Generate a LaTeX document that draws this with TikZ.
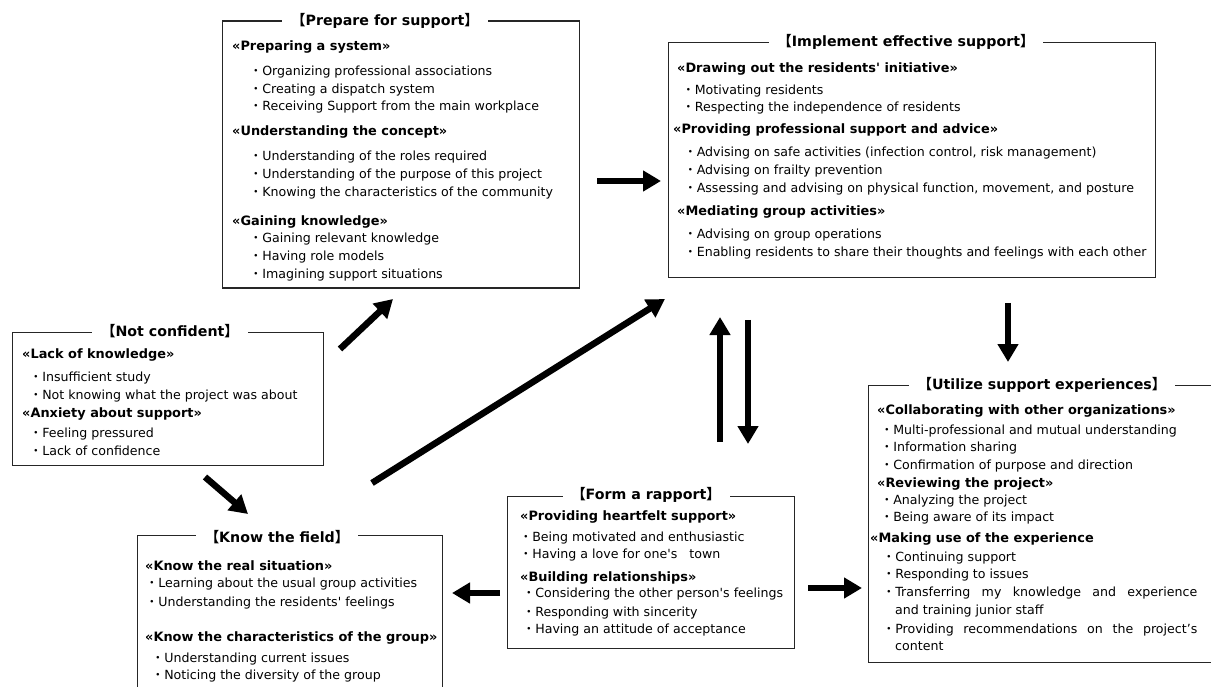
\documentclass[tikz,border=0pt]{standalone}
\usepackage{fontspec}
\setmainfont{DejaVu Sans}[Ligatures=TeXOff]
\newfontfamily\cjk{Noto Sans CJK JP}
\usetikzlibrary{arrows.meta}
\newcommand\mybul{{\cjk ・}}
\newcommand\ttltext[1]{{\cjk 【}#1{\cjk 】}}
\tikzset{
  boxst/.style={draw=black!85, line width=1.1pt, rectangle, inner sep=0pt, anchor=north west},
  ttl/.style={fill=white, inner xsep=9pt, inner ysep=1pt, font=\bfseries\fontsize{14.2}{16}\selectfont, anchor=center},
  hd/.style={inner sep=0pt, anchor=base west, font=\bfseries\fontsize{12.9}{15}\selectfont},
  it/.style={inner sep=0pt, anchor=base west, font=\fontsize{12.6}{15}\selectfont},
  arr/.style={line width=6.5pt, -{Triangle[width=20pt,length=18pt]}},
}
\begin{document}
\begin{tikzpicture}[x=1pt,y=-1pt]
\useasboundingbox[fill=white] (0,0) rectangle (1211,687);

% ---------- Prepare for support ----------
\node[boxst, minimum width=357pt, minimum height=267pt] (prep) at (222,20.5) {};
\node[ttl] (prepT) at (385,21) {\ttltext{Prepare for support}};
\node[hd] (p1) at (232,51) {«Preparing a system»};
\node[it] (p2) at (249.5,76) {\mybul Organizing professional associations};
\node[it] (p3) at (249.5,94) {\mybul Creating a dispatch system};
\node[it] (p4) at (249.5,111) {\mybul Receiving Support from the main workplace};
\node[hd] (p5) at (232,136) {«Understanding the concept»};
\node[it] (p6) at (249.5,161) {\mybul Understanding of the roles required};
\node[it] (p7) at (249.5,179) {\mybul Understanding of the purpose of this project};
\node[it] (p8) at (249.5,197) {\mybul Knowing the characteristics of the community};
\node[hd] (p9) at (232,226) {«Gaining knowledge»};
\node[it] (p10) at (249.5,243) {\mybul Gaining relevant knowledge};
\node[it] (p11) at (249.5,261) {\mybul Having role models};
\node[it] (p12) at (249.5,279) {\mybul Imagining support situations};

% ---------- Implement effective support ----------
\node[boxst, minimum width=487pt, minimum height=235pt] (impl) at (668,42) {};
\node[ttl] (implT) at (906,42) {\ttltext{Implement effective support}};
\node[hd] (i1) at (677,73) {«Drawing out the residents' initiative»};
\node[it] (i2) at (682,95) {\mybul Motivating residents};
\node[it] (i3) at (682,112) {\mybul Respecting the independence of residents};
\node[hd] (i4) at (673,134) {«Providing professional support and advice»};
\node[it] (i5) at (684,157) {\mybul Advising on safe activities (infection control, risk management)};
\node[it] (i6) at (684,175) {\mybul Advising on frailty prevention};
\node[it] (i7) at (684,193) {\mybul Assessing and advising on physical function, movement, and posture};
\node[hd] (i8) at (677,216) {«Mediating group activities»};
\node[it] (i9) at (684,239) {\mybul Advising on group operations};
\node[it] (i10) at (684,257) {\mybul Enabling residents to share their thoughts and feelings with each other};

% ---------- Not confident ----------
\node[boxst, minimum width=311pt, minimum height=133pt] (notc) at (12,332) {};
\node[ttl] (notcT) at (170,331) {\ttltext{Not confident}};
\node[hd] (n1) at (22,359) {«Lack of knowledge»};
\node[it] (n2) at (29.5,381) {\mybul Insufficient study};
\node[it] (n3) at (29.5,399) {\mybul Not knowing what the project was about};
\node[hd] (n4) at (22,417) {«Anxiety about support»};
\node[it] (n5) at (29.5,437) {\mybul Feeling pressured};
\node[it] (n6) at (29.5,455) {\mybul Lack of confidence};

% ---------- Know the field ----------
\node[boxst, minimum width=305pt, minimum height=200pt] (know) at (137,535) {};
\node[ttl] (knowT) at (277,537) {\ttltext{Know the field}};
\node[hd] (k1) at (145,570) {«Know the real situation»};
\node[it] (k2) at (145.5,587) {\mybul Learning about the usual group activities};
\node[it] (k3) at (145.5,606) {\mybul Understanding the residents' feelings};
\node[hd] (k4) at (145,641) {«Know the characteristics of the group»};
\node[it] (k5) at (151.5,662) {\mybul Understanding current issues};
\node[it] (k6) at (151.5,679) {\mybul Noticing the diversity of the group};

% ---------- Form a rapport ----------
\node[boxst, minimum width=287pt, minimum height=152pt] (form) at (507,496) {};
\node[ttl] (formT) at (646,495) {\ttltext{Form a rapport}};
\node[hd] (f1) at (520,520) {«Providing heartfelt support»};
\node[it] (f2) at (519.5,541) {\mybul Being motivated and enthusiastic};
\node[it] (f3) at (519.5,558) {\mybul Having a love for one's\ \ \ town};
\node[hd] (f4) at (520,581) {«Building relationships»};
\node[it] (f5) at (522.5,597) {\mybul Considering the other person's feelings};
\node[it] (f6) at (522.5,616) {\mybul Responding with sincerity};
\node[it] (f7) at (522.5,633) {\mybul Having an attitude of acceptance};

% ---------- Utilize support experiences ----------
\node[boxst, minimum width=360pt, minimum height=277pt] (util) at (868,385) {};
\node[ttl] (utilT) at (1042,385) {\ttltext{Utilize support experiences}};
\node[hd] (u1) at (877,414) {«Collaborating with other organizations»};
\node[it] (u2) at (880.5,434) {\mybul Multi-professional and mutual understanding};
\node[it] (u3) at (880.5,451) {\mybul Information sharing};
\node[it] (u4) at (880.5,469) {\mybul Confirmation of purpose and direction};
\node[hd] (u5) at (877,487) {«Reviewing the project»};
\node[it] (u6) at (880.5,504) {\mybul Analyzing the project};
\node[it] (u7) at (880.5,521) {\mybul Being aware of its impact};
\node[hd] (u8) at (870,542) {«Making use of the experience};
\node[it] (u9) at (882.5,561) {\mybul Continuing support};
\node[it] (u10) at (882.5,578) {\mybul Responding to issues};
\node[it] (u11) at (882.5,596) {\mybul \makebox[302pt][s]{Transferring my knowledge and experience}};
\node[it] (u12) at (895,614) {and training junior staff};
\node[it] (u13) at (882.5,633) {\mybul \makebox[302pt][s]{Providing recommendations on the project’s}};
\node[it] (u14) at (895,650) {content};

% ---------- Arrows ----------
\coordinate (a1t) at (340,349); \coordinate (a1h) at (393,299);
\coordinate (a2t) at (597,181); \coordinate (a2h) at (661,181);
\coordinate (a3t) at (372,483); \coordinate (a3h) at (665,299);
\coordinate (a4t) at (205,477); \coordinate (a4h) at (248,514);
\coordinate (a5t) at (500,593); \coordinate (a5h) at (452,593);
\coordinate (a6t) at (808,588); \coordinate (a6h) at (862,588);
\coordinate (a7t) at (720,442); \coordinate (a7h) at (720,317);
\coordinate (a8t) at (748,320); \coordinate (a8h) at (748,444);
\coordinate (a9t) at (1008,303); \coordinate (a9h) at (1008,362);
\foreach \k in {1,...,9} {\draw[arr] (a\k t) -- (a\k h);}
\end{tikzpicture}
\end{document}
